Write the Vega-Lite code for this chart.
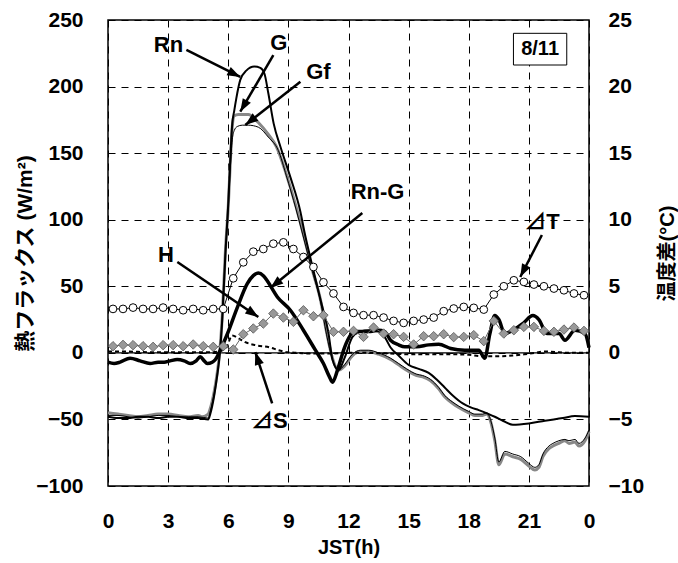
{
  "$schema": "https://vega.github.io/schema/vega-lite/v6.json",
  "width": 481,
  "height": 466,
  "autosize": {"type": "none"},
  "padding": {"left": 108, "top": 20, "right": 89, "bottom": 77},
  "background": "white",
  "config": {
    "font": "Liberation Sans",
    "view": {"stroke": "#000", "strokeWidth": 1.5},
    "axis": {
      "labelFont": "Liberation Sans",
      "labelFontSize": 21,
      "labelFontWeight": "bold",
      "labelColor": "#000",
      "labelFlush": false,
      "labelOverlap": false,
      "titleFont": "Liberation Sans, Noto Sans CJK JP",
      "titleFontSize": 20,
      "titleFontWeight": "bold",
      "titleColor": "#000",
      "ticks": false,
      "tickSize": 0,
      "domain": false,
      "grid": true,
      "gridColor": "#000",
      "gridDash": [7, 6],
      "gridWidth": 1,
      "gridOpacity": 1
    }
  },
  "datasets": {
    "zero": [{"h": 0, "v": 0}, {"h": 24, "v": 0}],
    "rn": [
      {"h": 0, "v": -48}, {"h": 0.5, "v": -49}, {"h": 1, "v": -49}, {"h": 1.5, "v": -48}, {"h": 2, "v": -48},
      {"h": 2.5, "v": -49}, {"h": 3, "v": -48}, {"h": 3.5, "v": -48}, {"h": 4, "v": -49}, {"h": 4.5, "v": -49},
      {"h": 5.0, "v": -50}, {"h": 5.1, "v": -46}, {"h": 5.3, "v": -32}, {"h": 5.45, "v": -17}, {"h": 5.57, "v": -2},
      {"h": 5.7, "v": 25}, {"h": 5.86, "v": 75}, {"h": 6.0, "v": 112}, {"h": 6.1, "v": 145}, {"h": 6.2, "v": 172},
      {"h": 6.3, "v": 182}, {"h": 6.4, "v": 191}, {"h": 6.6, "v": 205}, {"h": 6.9, "v": 212}, {"h": 7.3, "v": 215},
      {"h": 7.6, "v": 214}, {"h": 7.8, "v": 210}, {"h": 8.0, "v": 195}, {"h": 8.27, "v": 172}, {"h": 8.6, "v": 155},
      {"h": 9.1, "v": 132}, {"h": 9.6, "v": 106}, {"h": 9.8, "v": 91}, {"h": 10.2, "v": 65}, {"h": 10.6, "v": 40},
      {"h": 11.0, "v": 15}, {"h": 11.2, "v": -5}, {"h": 11.5, "v": -13}, {"h": 11.8, "v": -4}, {"h": 12.2, "v": 12},
      {"h": 12.6, "v": 16}, {"h": 13.0, "v": 17}, {"h": 13.5, "v": 16}, {"h": 13.8, "v": 12}, {"h": 14.1, "v": 4},
      {"h": 14.5, "v": -2}, {"h": 15.0, "v": -9}, {"h": 15.5, "v": -12}, {"h": 16.0, "v": -15}, {"h": 16.4, "v": -20},
      {"h": 16.8, "v": -26}, {"h": 17.2, "v": -32}, {"h": 17.7, "v": -38}, {"h": 18.1, "v": -41}, {"h": 18.5, "v": -43},
      {"h": 19.0, "v": -46}, {"h": 19.3, "v": -48}, {"h": 19.7, "v": -51}, {"h": 20.2, "v": -54}, {"h": 21.0, "v": -53},
      {"h": 21.8, "v": -51}, {"h": 22.7, "v": -49}, {"h": 23.3, "v": -47.5}, {"h": 24, "v": -48}
    ],
    "g": [
      {"h": 0, "v": -45}, {"h": 0.5, "v": -46}, {"h": 1, "v": -47}, {"h": 1.5, "v": -48}, {"h": 2, "v": -47},
      {"h": 2.5, "v": -46}, {"h": 3, "v": -46}, {"h": 3.5, "v": -47}, {"h": 4, "v": -48}, {"h": 4.5, "v": -47},
      {"h": 4.7, "v": -48}, {"h": 5.0, "v": -46}, {"h": 5.1, "v": -42}, {"h": 5.3, "v": -29}, {"h": 5.45, "v": -15},
      {"h": 5.57, "v": 0}, {"h": 5.7, "v": 27}, {"h": 5.86, "v": 77}, {"h": 6.0, "v": 110}, {"h": 6.1, "v": 142},
      {"h": 6.2, "v": 170}, {"h": 6.3, "v": 178}, {"h": 6.5, "v": 179}, {"h": 7.0, "v": 179}, {"h": 7.5, "v": 173},
      {"h": 8.0, "v": 164}, {"h": 8.4, "v": 155}, {"h": 8.9, "v": 134}, {"h": 9.38, "v": 110}, {"h": 9.8, "v": 86},
      {"h": 10.2, "v": 62}, {"h": 10.6, "v": 40}, {"h": 10.9, "v": 16}, {"h": 11.2, "v": -4}, {"h": 11.5, "v": -13},
      {"h": 11.8, "v": -10}, {"h": 12.2, "v": -2}, {"h": 12.6, "v": 1}, {"h": 13.0, "v": 1}, {"h": 13.5, "v": -1},
      {"h": 14.1, "v": -5}, {"h": 14.5, "v": -9}, {"h": 14.9, "v": -13}, {"h": 15.4, "v": -17}, {"h": 15.7, "v": -18},
      {"h": 16.1, "v": -21}, {"h": 16.5, "v": -27}, {"h": 16.8, "v": -33}, {"h": 17.2, "v": -38}, {"h": 17.5, "v": -41},
      {"h": 18.0, "v": -45}, {"h": 18.3, "v": -47}, {"h": 18.7, "v": -47}, {"h": 18.9, "v": -46}, {"h": 19.1, "v": -52},
      {"h": 19.3, "v": -66}, {"h": 19.5, "v": -84}, {"h": 19.8, "v": -76}, {"h": 20.2, "v": -78}, {"h": 20.6, "v": -80},
      {"h": 21.0, "v": -85}, {"h": 21.3, "v": -88}, {"h": 21.5, "v": -86}, {"h": 21.7, "v": -78}, {"h": 22.0, "v": -72},
      {"h": 22.2, "v": -70}, {"h": 22.5, "v": -68}, {"h": 22.8, "v": -66}, {"h": 23.0, "v": -68}, {"h": 23.3, "v": -67},
      {"h": 23.5, "v": -70}, {"h": 23.8, "v": -66}, {"h": 24, "v": -59}
    ],
    "gf": [
      {"h": 0, "v": -47}, {"h": 0.5, "v": -47}, {"h": 1, "v": -48}, {"h": 1.5, "v": -49}, {"h": 2, "v": -48},
      {"h": 2.5, "v": -47}, {"h": 3, "v": -47}, {"h": 3.5, "v": -48}, {"h": 4, "v": -48}, {"h": 4.5, "v": -48},
      {"h": 5.0, "v": -49}, {"h": 5.1, "v": -44}, {"h": 5.3, "v": -30}, {"h": 5.45, "v": -16}, {"h": 5.57, "v": -1},
      {"h": 5.7, "v": 26}, {"h": 5.86, "v": 75}, {"h": 6.0, "v": 108}, {"h": 6.1, "v": 138}, {"h": 6.2, "v": 160},
      {"h": 6.3, "v": 167}, {"h": 6.45, "v": 170}, {"h": 6.7, "v": 171}, {"h": 7.0, "v": 171}, {"h": 7.5, "v": 169.5},
      {"h": 8.0, "v": 162}, {"h": 8.5, "v": 152}, {"h": 8.9, "v": 133}, {"h": 9.38, "v": 108}, {"h": 9.8, "v": 84},
      {"h": 10.2, "v": 61}, {"h": 10.6, "v": 39}, {"h": 10.9, "v": 14}, {"h": 11.2, "v": -5}, {"h": 11.5, "v": -13},
      {"h": 11.8, "v": -9}, {"h": 12.2, "v": -1}, {"h": 12.6, "v": 2}, {"h": 13.0, "v": 2}, {"h": 13.5, "v": 0},
      {"h": 14.1, "v": -4}, {"h": 14.5, "v": -8}, {"h": 14.9, "v": -12}, {"h": 15.4, "v": -16}, {"h": 15.7, "v": -17},
      {"h": 16.1, "v": -20}, {"h": 16.5, "v": -26}, {"h": 16.8, "v": -32}, {"h": 17.2, "v": -37}, {"h": 17.5, "v": -40},
      {"h": 18.0, "v": -44}, {"h": 18.3, "v": -46}, {"h": 18.7, "v": -46}, {"h": 18.9, "v": -45}, {"h": 19.1, "v": -51},
      {"h": 19.3, "v": -64}, {"h": 19.5, "v": -82}, {"h": 19.8, "v": -74}, {"h": 20.2, "v": -76}, {"h": 20.6, "v": -78},
      {"h": 21.0, "v": -83}, {"h": 21.3, "v": -86}, {"h": 21.5, "v": -84}, {"h": 21.7, "v": -76}, {"h": 22.0, "v": -70},
      {"h": 22.2, "v": -68}, {"h": 22.5, "v": -66}, {"h": 22.8, "v": -65}, {"h": 23.0, "v": -66}, {"h": 23.3, "v": -65},
      {"h": 23.5, "v": -68}, {"h": 23.8, "v": -64}, {"h": 24, "v": -58}
    ],
    "rng": [
      {"h": 0, "v": -7}, {"h": 0.3, "v": -8}, {"h": 0.6, "v": -7}, {"h": 1.1, "v": -4}, {"h": 1.6, "v": -6},
      {"h": 2.1, "v": -8}, {"h": 2.5, "v": -7}, {"h": 2.8, "v": -7}, {"h": 3.1, "v": -6}, {"h": 3.45, "v": -5},
      {"h": 3.8, "v": -6}, {"h": 4.1, "v": -8}, {"h": 4.4, "v": -6}, {"h": 4.6, "v": -3}, {"h": 4.8, "v": -6},
      {"h": 4.95, "v": -8}, {"h": 5.2, "v": -7}, {"h": 5.36, "v": -5}, {"h": 5.6, "v": 2}, {"h": 5.95, "v": 14},
      {"h": 6.45, "v": 34}, {"h": 6.95, "v": 52}, {"h": 7.25, "v": 58}, {"h": 7.5, "v": 60}, {"h": 7.75, "v": 58},
      {"h": 7.95, "v": 54}, {"h": 8.45, "v": 42}, {"h": 9.1, "v": 32}, {"h": 9.75, "v": 17}, {"h": 10.35, "v": 2},
      {"h": 10.75, "v": -8}, {"h": 11.05, "v": -18}, {"h": 11.2, "v": -22}, {"h": 11.45, "v": -13}, {"h": 11.8, "v": 4},
      {"h": 12.3, "v": 16}, {"h": 12.7, "v": 16}, {"h": 13.1, "v": 16}, {"h": 13.5, "v": 17}, {"h": 13.8, "v": 16},
      {"h": 14.1, "v": 9.5}, {"h": 14.5, "v": 6}, {"h": 14.8, "v": 4.5}, {"h": 15.4, "v": 4.5}, {"h": 16.0, "v": 6},
      {"h": 16.5, "v": 6.5}, {"h": 17.1, "v": 3.3}, {"h": 17.8, "v": 2}, {"h": 18.5, "v": 2}, {"h": 18.8, "v": -4},
      {"h": 19.05, "v": 14}, {"h": 19.3, "v": 28}, {"h": 19.5, "v": 25}, {"h": 19.8, "v": 14.5}, {"h": 20.2, "v": 17},
      {"h": 20.7, "v": 22}, {"h": 21.2, "v": 28}, {"h": 21.5, "v": 25}, {"h": 21.9, "v": 14.5}, {"h": 22.5, "v": 14.5},
      {"h": 22.8, "v": 9.5}, {"h": 23.3, "v": 17}, {"h": 23.8, "v": 14.5}, {"h": 24, "v": 4}
    ],
    "ds": [
      {"h": 0, "v": 1}, {"h": 1, "v": 1}, {"h": 2, "v": 0.5}, {"h": 3, "v": 0.5}, {"h": 4, "v": 0.5},
      {"h": 5, "v": 0.5}, {"h": 5.5, "v": 1}, {"h": 5.9, "v": 4}, {"h": 6.2, "v": 13}, {"h": 6.5, "v": 11},
      {"h": 6.85, "v": 8}, {"h": 7.35, "v": 5.8}, {"h": 8.1, "v": 4}, {"h": 8.5, "v": 2}, {"h": 8.95, "v": 0.5},
      {"h": 9.5, "v": 0}, {"h": 10, "v": -0.5}, {"h": 11, "v": -0.5}, {"h": 12, "v": 0}, {"h": 13, "v": 0},
      {"h": 14, "v": -0.5}, {"h": 15, "v": -1}, {"h": 16, "v": -1}, {"h": 17, "v": -1}, {"h": 18, "v": -1.5},
      {"h": 18.7, "v": -2.5}, {"h": 19.5, "v": -2.5}, {"h": 20.2, "v": -2}, {"h": 20.8, "v": -1}, {"h": 21.3, "v": 0},
      {"h": 21.8, "v": 1}, {"h": 22.5, "v": 0.5}, {"h": 23, "v": 0}, {"h": 24, "v": 0}
    ],
    "hflux": [
      {"h": 0.25, "v": 5}, {"h": 0.75, "v": 6}, {"h": 1.25, "v": 5.8}, {"h": 1.75, "v": 5}, {"h": 2.25, "v": 4.5},
      {"h": 2.75, "v": 5.8}, {"h": 3.25, "v": 5.8}, {"h": 3.75, "v": 5}, {"h": 4.25, "v": 6.3}, {"h": 4.75, "v": 5},
      {"h": 5.25, "v": 4.5}, {"h": 5.75, "v": 5}, {"h": 6.25, "v": 2.5}, {"h": 6.75, "v": 14}, {"h": 7.25, "v": 18.3},
      {"h": 7.75, "v": 22}, {"h": 8.25, "v": 29.5}, {"h": 8.75, "v": 26.5}, {"h": 9.25, "v": 23.3}, {"h": 9.75, "v": 32},
      {"h": 10.25, "v": 27.5}, {"h": 10.75, "v": 28.3}, {"h": 11.25, "v": 15.8}, {"h": 11.75, "v": 15.8}, {"h": 12.25, "v": 16.5},
      {"h": 12.75, "v": 12}, {"h": 13.25, "v": 19}, {"h": 13.75, "v": 14.5}, {"h": 14.25, "v": 14}, {"h": 14.75, "v": 12},
      {"h": 15.25, "v": 6.3}, {"h": 15.75, "v": 12.5}, {"h": 16.25, "v": 12.5}, {"h": 16.75, "v": 14}, {"h": 17.25, "v": 11.8},
      {"h": 17.75, "v": 12}, {"h": 18.25, "v": 13.3}, {"h": 18.75, "v": 8.8}, {"h": 19.25, "v": 24}, {"h": 19.75, "v": 14.5},
      {"h": 20.25, "v": 17}, {"h": 20.75, "v": 19.5}, {"h": 21.25, "v": 19.5}, {"h": 21.75, "v": 16.5}, {"h": 22.25, "v": 15.8},
      {"h": 22.75, "v": 17.5}, {"h": 23.25, "v": 19}, {"h": 23.75, "v": 16.5}
    ],
    "dt": [
      {"h": 0.25, "t": 3.3}, {"h": 0.75, "t": 3.3}, {"h": 1.25, "t": 3.4}, {"h": 1.75, "t": 3.3}, {"h": 2.25, "t": 3.3},
      {"h": 2.75, "t": 3.4}, {"h": 3.25, "t": 3.3}, {"h": 3.75, "t": 3.2}, {"h": 4.25, "t": 3.3}, {"h": 4.75, "t": 3.2},
      {"h": 5.25, "t": 3.3}, {"h": 5.75, "t": 3.3}, {"h": 6.25, "t": 5.6}, {"h": 6.75, "t": 6.8}, {"h": 7.25, "t": 7.6},
      {"h": 7.75, "t": 7.8}, {"h": 8.25, "t": 8.2}, {"h": 8.75, "t": 8.3}, {"h": 9.25, "t": 7.8}, {"h": 9.75, "t": 7.2},
      {"h": 10.25, "t": 6.45}, {"h": 10.75, "t": 5.3}, {"h": 11.25, "t": 4.46}, {"h": 11.75, "t": 3.45}, {"h": 12.25, "t": 3.0},
      {"h": 12.75, "t": 2.83}, {"h": 13.25, "t": 2.83}, {"h": 13.75, "t": 2.65}, {"h": 14.25, "t": 2.4}, {"h": 14.75, "t": 2.25},
      {"h": 15.25, "t": 2.4}, {"h": 15.75, "t": 2.5}, {"h": 16.25, "t": 2.65}, {"h": 16.75, "t": 3.13}, {"h": 17.25, "t": 3.33},
      {"h": 17.75, "t": 3.45}, {"h": 18.25, "t": 3.38}, {"h": 18.75, "t": 3.25}, {"h": 19.25, "t": 4.38}, {"h": 19.75, "t": 5.0},
      {"h": 20.25, "t": 5.45}, {"h": 20.75, "t": 5.33}, {"h": 21.25, "t": 5.13}, {"h": 21.75, "t": 5.0}, {"h": 22.25, "t": 4.83},
      {"h": 22.75, "t": 4.7}, {"h": 23.25, "t": 4.46}, {"h": 23.75, "t": 4.33}
    ],
    "labels": [
      {"label": "Rn", "h": 3.02, "v": 231.2},
      {"label": "G", "h": 8.52, "v": 232.5},
      {"label": "Gf", "h": 10.5, "v": 210.6},
      {"label": "Rn-G", "h": 13.45, "v": 120.8},
      {"label": "H", "h": 2.89, "v": 73.5},
      {"label": "⊿S", "h": 8.05, "v": -51.2},
      {"label": "⊿T", "h": 21.65, "v": 98.3},
      {"label": "8/11", "h": 21.56, "v": 228.1}
    ],
    "arrows": [
      {"h": 6.6, "v": 207.2, "ht": 3.91, "vt": 227.5},
      {"h": 6.6, "v": 181.1, "ht": 8.25, "vt": 223.7},
      {"h": 6.85, "v": 171.1, "ht": 9.6, "vt": 203.7},
      {"h": 8.1, "v": 48.7, "ht": 12.69, "vt": 105.0},
      {"h": 7.5, "v": 26.9, "ht": 3.46, "vt": 68.2},
      {"h": 7.35, "v": 0.6, "ht": 8.19, "vt": -37.9},
      {"h": 20.57, "v": 57.0, "ht": 21.65, "vt": 88.5}
    ],
    "datebox": [
      {"h": 20.23, "v": 240, "h2": 22.89, "v2": 216.2}
    ]
  },
  "encoding": {
    "x": {
      "field": "h", "type": "quantitative",
      "scale": {"domain": [0, 24], "nice": false, "zero": false},
      "axis": {
        "title": "JST(h)",
        "values": [0, 3, 6, 9, 12, 15, 18, 21, 24],
        "labelExpr": "datum.value == 24 ? '0' : datum.label",
        "labelPadding": 24,
        "titlePadding": 6
      }
    }
  },
  "layer": [
    {
      "encoding": {
        "y": {
          "field": "v", "type": "quantitative",
          "scale": {"domain": [-100, 250], "nice": false, "zero": false},
          "axis": {
            "title": "熱フラックス (W/m²)",
            "titleFontSize": 21,
            "values": [-100, -50, 0, 50, 100, 150, 200, 250],
            "labelPadding": 25,
            "titlePadding": 0
          }
        }
      },
      "layer": [
        {"data": {"name": "zero"}, "mark": {"type": "line", "color": "#000", "strokeWidth": 1.2}},
        {"data": {"name": "g"}, "mark": {"type": "line", "color": "#888888", "strokeWidth": 3, "interpolate": "monotone"}},
        {"data": {"name": "gf"}, "mark": {"type": "line", "color": "#000", "strokeWidth": 1, "interpolate": "monotone"}},
        {"data": {"name": "rn"}, "mark": {"type": "line", "color": "#000", "strokeWidth": 2, "interpolate": "monotone"}},
        {"data": {"name": "rng"}, "mark": {"type": "line", "color": "#000", "strokeWidth": 3.5, "interpolate": "monotone"}},
        {"data": {"name": "ds"}, "mark": {"type": "line", "color": "#000", "strokeWidth": 2, "strokeDash": [4, 3], "interpolate": "monotone"}},
        {"data": {"name": "hflux"}, "mark": {"type": "line", "color": "#666666", "strokeWidth": 1}},
        {"data": {"name": "hflux"}, "mark": {"type": "point", "shape": "diamond", "filled": true, "fill": "#999999", "stroke": "#555555", "strokeWidth": 0.8, "size": 90, "opacity": 1}}
      ]
    },
    {
      "data": {"name": "dt"},
      "encoding": {
        "y": {
          "field": "t", "type": "quantitative",
          "scale": {"domain": [-10, 25], "nice": false, "zero": false},
          "axis": {
            "orient": "right",
            "title": "温度差(°C)",
            "values": [-10, -5, 0, 5, 10, 15, 20, 25],
            "grid": false,
            "labelPadding": 19,
            "titleAngle": 270,
            "titleBaseline": "top",
            "titlePadding": 14
          }
        }
      },
      "layer": [
        {"mark": {"type": "line", "color": "#000", "strokeWidth": 1}},
        {"mark": {"type": "point", "shape": "circle", "filled": true, "fill": "#fff", "stroke": "#000", "strokeWidth": 1, "size": 60, "opacity": 1}}
      ]
    },
    {
      "encoding": {
        "y": {"field": "v", "type": "quantitative", "axis": null, "scale": {"domain": [-100, 250], "nice": false, "zero": false}}
      },
      "layer": [
        {
          "data": {"name": "datebox"},
          "mark": {"type": "rect", "fill": "#fff", "stroke": "#000", "strokeWidth": 1},
          "encoding": {"x2": {"field": "h2"}, "y2": {"field": "v2"}}
        },
        {
          "data": {"name": "arrows"},
          "mark": {"type": "rule", "color": "#000", "strokeWidth": 2.5},
          "encoding": {"x2": {"field": "ht"}, "y2": {"field": "vt"}}
        },
        {
          "data": {"name": "arrows"},
          "transform": [
            {"calculate": "atan2(20.04 * (datum.h - datum.ht), 1.3314 * (datum.v - datum.vt)) * 180 / PI", "as": "ang"}
          ],
          "mark": {"type": "point", "shape": "M0,0L-0.36,1L0.36,1Z", "filled": true, "color": "#000", "opacity": 1, "size": 676, "strokeWidth": 0},
          "encoding": {"angle": {"field": "ang", "type": "quantitative", "scale": null}}
        },
        {
          "data": {"name": "labels"},
          "mark": {"type": "text", "font": "Liberation Sans, Noto Sans CJK JP", "fontWeight": "bold", "fontSize": 22, "align": "center", "baseline": "middle", "color": "#000"},
          "encoding": {
            "text": {"field": "label"},
            "size": {"condition": {"test": "datum.label == '8/11'", "value": 20}, "value": 22}
          }
        }
      ]
    }
  ],
  "resolve": {"scale": {"y": "independent"}}
}
